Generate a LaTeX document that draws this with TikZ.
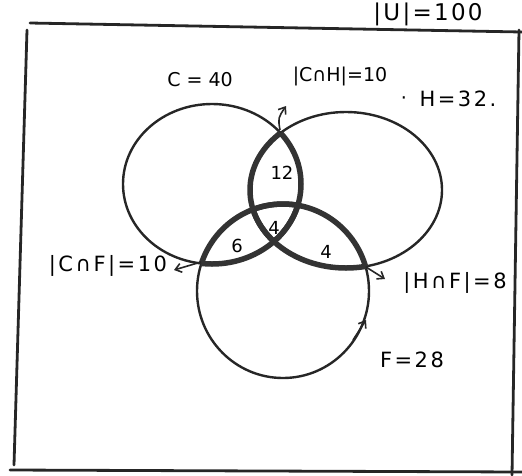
\documentclass[tikz,border=0pt]{standalone}
\usepackage{fontspec}
\setmainfont{DejaVu Sans}
\usetikzlibrary{arrows.meta}
\begin{document}
\begin{tikzpicture}[x=1pt,y=-1pt,
  frameline/.style={line width=2.8pt, black!85, line cap=round},
  setline/.style={line width=2.4pt, black!85},
  overlap/.style={line width=5.5pt, black!80},
  lbl/.style={font=\fontsize{19}{21}\selectfont, inner sep=1pt},
  wide/.style={font=\fontsize{21}{23}\selectfont\addfontfeature{LetterSpace=12}, inner sep=1pt},
  num/.style={font=\fontsize{18}{20}\selectfont, inner sep=1pt},
  ptr/.style={line width=1.6pt, black!85, -{Straight Barb[length=6pt,width=9pt]}}
]
\useasboundingbox (0,0) rectangle (522,475);
% frame
\draw[frameline] (30,23) -- (522,32);
\draw[frameline] (27,30) -- (14,465);
\draw[frameline] (10,470) -- (522,472);
\draw[frameline] (519,30) -- (512,475);
\node[wide, font=\fontsize{23}{25}\selectfont\addfontfeature{LetterSpace=10}] (U) at (428,14) {|U|=100};
% sets
\def\Cset{(212,184) ellipse [x radius=89, y radius=80]}
\def\Hset{(346,190) ellipse [x radius=96, y radius=78]}
\def\Fset{(283,291) ellipse [x radius=86, y radius=87]}
\draw[setline] \Cset;
\draw[setline] \Hset;
\draw[setline] \Fset;
\begin{scope}\clip \Hset; \draw[overlap] \Cset; \end{scope}
\begin{scope}\clip \Cset; \draw[overlap] \Hset; \end{scope}
\begin{scope}\clip \Cset; \draw[overlap] \Fset; \end{scope}
\begin{scope}\clip \Hset; \draw[overlap] \Fset; \end{scope}
\begin{scope}\clip \Fset; \draw[overlap] \Cset; \end{scope}
\begin{scope}\clip \Fset; \draw[overlap] \Hset; \end{scope}
% region numbers
\node[num] (n12) at (282,173) {12};
\node[num] (n4a) at (274,228) {4};
\node[num] (n6) at (237,246) {6};
\node[num] (n4b) at (326,252) {4};
% labels
\node[lbl] (Cl) at (200,80) {C = 40};
\node[lbl] (CH) at (340,76) {|C∩H|=10};
\node[wide] (Hl) at (458,99) {H=32.};
\node[lbl] (dot) at (404,101) {·};
\node[wide] (CF) at (108,266) {|C∩F|=10};
\node[wide] (HF) at (455,283) {|H∩F|=8};
\node[wide] (Fl) at (412,360) {F=28};
% pointers
\coordinate (pCH) at (280,130);
\coordinate (tCH) at (286,106);
\coordinate (pCF) at (201,262);
\coordinate (tCF) at (174,270);
\coordinate (pHF) at (366,267);
\coordinate (tHF) at (385,279);
\coordinate (pF) at (353,340);
\coordinate (tF) at (366,320);
\draw[ptr] (pCH) .. controls (278,118) .. (tCH);
\draw[ptr] (pCF) -- (tCF);
\draw[ptr] (pHF) -- (tHF);
\draw[ptr] (pF) -- (tF);
\end{tikzpicture}
\end{document}
